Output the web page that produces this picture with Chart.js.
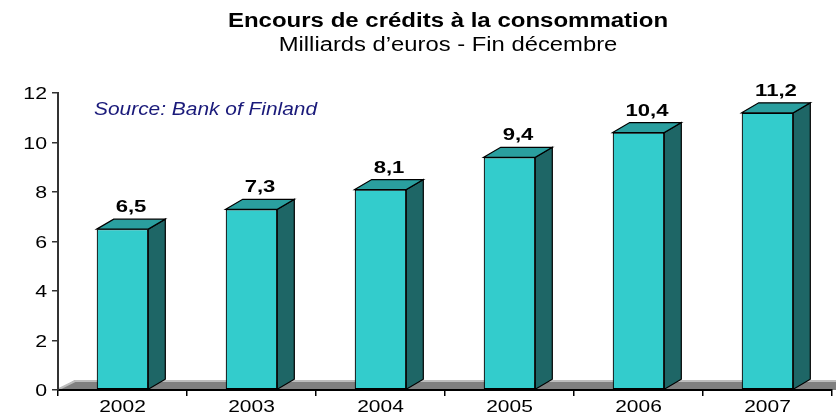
<!DOCTYPE html>
<html>
<head>
<meta charset="utf-8">
<script src="https://cdn.jsdelivr.net/npm/chart.js@4/dist/chart.umd.min.js"></script>
<style>
  html, body { margin: 0; padding: 0; background: #fff; }
  #wrap { width: 836px; height: 416px; }
</style>
</head>
<body>
<div id="wrap"><canvas id="credits" width="836" height="416"></canvas></div>
<script>
// chart data
const years = ['2002', '2003', '2004', '2005', '2006', '2007'];
const credits = [6.5, 7.3, 8.1, 9.4, 10.4, 11.2];
const yTickValues = [0, 2, 4, 6, 8, 10, 12];

const titleText = 'Encours de crédits à la consommation';
const subtitleText = 'Milliards d\u2019euros - Fin décembre';
const sourceText = 'Source: Bank of Finland';

// 3D look
const depthX = 17;
const depthY = 10;
const frontColor = '#33CCCC';
const topColor = '#2A9F9F';
const sideColor = '#1E6666';
const FONT = 'Arial, "Liberation Sans", sans-serif';

// the original text is a bit stretched sideways
function stretchedText(ctx, text, x, y, font, color, align, sx) {
    ctx.save();
    ctx.translate(x, y);
    ctx.scale(sx, 1);
    ctx.font = font;
    ctx.fillStyle = color;
    ctx.textAlign = align;
    ctx.textBaseline = 'alphabetic';
    ctx.fillText(text, 0, 0);
    ctx.restore();
}

const floorPlugin = {
    id: 'floor3d',
    beforeDraw(chart) {
        const ctx = chart.ctx;
        const area = chart.chartArea;
        const y0 = chart.scales.y.getPixelForValue(0);
        ctx.save();
        ctx.beginPath();
        ctx.moveTo(area.left, y0);
        ctx.lineTo(area.left + depthX, y0 - depthY);
        ctx.lineTo(area.right + depthX + 10, y0 - depthY);
        ctx.lineTo(area.right + 10, y0);
        ctx.closePath();
        ctx.fillStyle = '#808080';
        ctx.fill();
        ctx.strokeStyle = '#BDBDBD';
        ctx.lineWidth = 2;
        ctx.beginPath();
        ctx.moveTo(area.left + 1, y0 - 1);
        ctx.lineTo(area.left + depthX, y0 - depthY + 1);
        ctx.lineTo(area.right + depthX + 10, y0 - depthY + 1);
        ctx.stroke();
        ctx.restore();
    }
};

const bars3dPlugin = {
    id: 'bars3d',
    afterDatasetsDraw(chart) {
        const ctx = chart.ctx;
        const meta = chart.getDatasetMeta(0);
        ctx.save();
        ctx.lineWidth = 1.2;
        ctx.strokeStyle = '#000';
        meta.data.forEach((bar, i) => {
            const left = bar.x - bar.width / 2;
            const right = bar.x + bar.width / 2;
            const top = bar.y;
            const base = bar.base;

            // side face
            ctx.beginPath();
            ctx.moveTo(right, top);
            ctx.lineTo(right + depthX, top - depthY);
            ctx.lineTo(right + depthX, base - depthY);
            ctx.lineTo(right, base);
            ctx.closePath();
            ctx.fillStyle = sideColor;
            ctx.fill();
            ctx.stroke();

            // top face
            ctx.beginPath();
            ctx.moveTo(left, top);
            ctx.lineTo(left + depthX, top - depthY);
            ctx.lineTo(right + depthX, top - depthY);
            ctx.lineTo(right, top);
            ctx.closePath();
            ctx.fillStyle = topColor;
            ctx.fill();
            ctx.stroke();

            const label = String(credits[i]).replace('.', ',');
            stretchedText(ctx, label, bar.x + depthX / 2, top - depthY - 7,
                'bold 17px ' + FONT, '#000', 'center', 1.3);
        });
        ctx.restore();
    }
};

const textPlugin = {
    id: 'texts',
    afterDraw(chart) {
        const ctx = chart.ctx;
        const xs = chart.scales.x;
        const ys = chart.scales.y;

        stretchedText(ctx, titleText, 448, 27, 'bold 20px ' + FONT, '#000', 'center', 1.2);
        stretchedText(ctx, subtitleText, 448, 51, '20px ' + FONT, '#000', 'center', 1.19);
        stretchedText(ctx, sourceText, 94, 115, 'italic 19px ' + FONT, '#1A1A7A', 'left', 1.1);

        yTickValues.forEach(v => {
            stretchedText(ctx, String(v), 47, ys.getPixelForValue(v) + 6,
                '16px ' + FONT, '#000', 'right', 1.33);
        });
        years.forEach((yr, i) => {
            stretchedText(ctx, yr, xs.getPixelForValue(i), 412,
                '16px ' + FONT, '#000', 'center', 1.31);
        });
    }
};

new Chart(document.getElementById('credits'), {
    type: 'bar',
    data: {
        labels: years,
        datasets: [{
            data: credits,
            backgroundColor: frontColor,
            borderColor: '#000',
            borderWidth: 1.2,
            borderSkipped: false,
            barPercentage: 0.4,
            categoryPercentage: 1.0
        }]
    },
    options: {
        responsive: false,
        devicePixelRatio: 1,
        animation: false,
        layout: { padding: { top: 93, right: 4, left: 0, bottom: 0 } },
        plugins: {
            legend: { display: false },
            tooltip: { enabled: false },
            title: { display: false }
        },
        scales: {
            x: {
                ticks: { display: false },
                grid: { offset: true, drawOnChartArea: false, tickLength: 6, color: '#000', lineWidth: 1.5 },
                border: { color: '#000', width: 2 },
                afterFit(scale) { scale.height = 26; }
            },
            y: {
                min: 0,
                max: 12,
                ticks: { display: false, stepSize: 2 },
                grid: { drawOnChartArea: false, tickLength: 6, color: '#333', lineWidth: 1.5 },
                border: { color: '#333', width: 2 },
                afterFit(scale) { scale.width = 58; }
            }
        }
    },
    plugins: [floorPlugin, bars3dPlugin, textPlugin]
});
</script>
</body>
</html>
